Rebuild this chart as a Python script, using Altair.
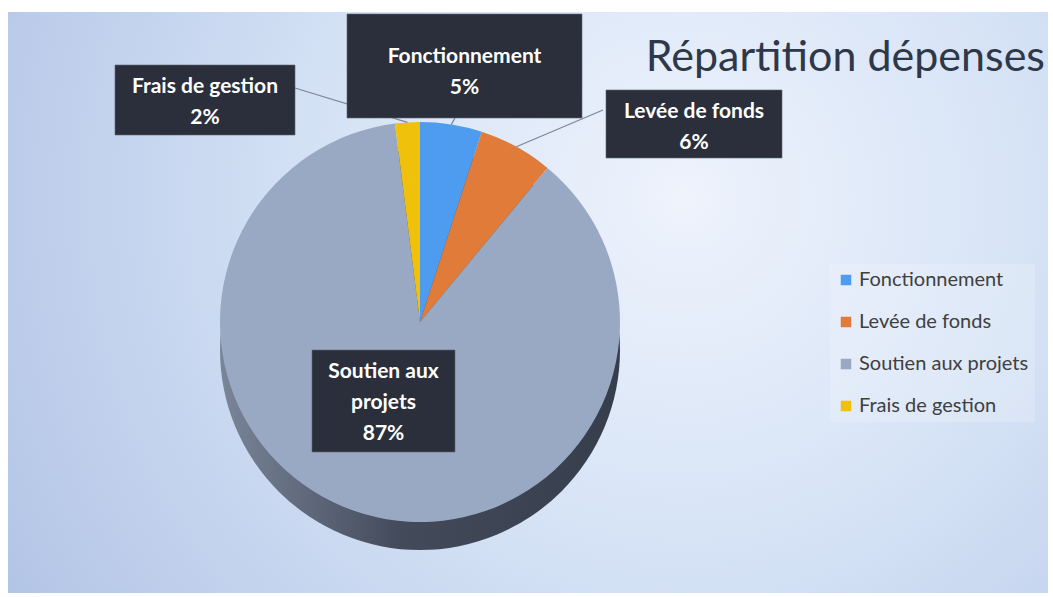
import math
import altair as alt
import pandas as pd

# ---- data ----
categories = ["Fonctionnement", "Levée de fonds", "Soutien aux projets", "Frais de gestion"]
values = [5, 6, 87, 2]
label_texts = ["Fonctionnement\n5%", "Levée de fonds\n6%", "Soutien aux\nprojets\n87%", "Frais de gestion\n2%"]
colors = ["#4d9cf0", "#e07b39", "#9aa9c3", "#f0c10a"]

# ---- layout ----
W, H = 1053, 597
CX, CY, R = 420, 322, 200
DEPTH = 28
LINE_H = 31
box_x1 = [347, 606, 312, 115]
box_x2 = [582, 782, 455, 295]
box_y1 = [14, 90, 350, 65]
box_y2 = [118, 158, 452, 135]
text_shift = [6, 3, 2, 2]
leader_start = [(455, 118), (603, 110), None, (295, 88)]

df = pd.DataFrame({"cat": categories, "value": values, "idx": list(range(len(values)))})

# leader end points derived from the slice mid angles
total = sum(values)
cum = 0
ends = []
for v in values:
    mid = (cum + v / 2) / total * 2 * math.pi
    ends.append((CX + R * math.sin(mid), CY - R * math.cos(mid)))
    cum += v
leaders = pd.DataFrame([
    {"x": s[0], "y": s[1], "x2": e[0], "y2": e[1]}
    for s, e in zip(leader_start, ends) if s is not None
])

nlines = [t.count("\n") + 1 for t in label_texts]
boxes = pd.DataFrame({
    "x1": box_x1, "x2": box_x2, "y1": box_y1, "y2": box_y2,
    "xc": [(a + b) / 2 for a, b in zip(box_x1, box_x2)],
    "ytop": [(a + b) / 2 - (n - 1) * LINE_H / 2 + s
             for a, b, n, s in zip(box_y1, box_y2, nlines, text_shift)],
    "label": label_texts,
})

bg = alt.Chart(pd.DataFrame({"a": [0]})).mark_rect(
    fill=alt.RadialGradient(
        gradient="radial",
        stops=[alt.GradientStop(color="#eef3fc", offset=0),
               alt.GradientStop(color="#d6e3f6", offset=0.45),
               alt.GradientStop(color="#b3c5e6", offset=1)],
        x1=0.65, y1=0.4, r1=0, x2=0.65, y2=0.4, r2=0.75,
    )
).encode(x=alt.value(8), x2=alt.value(1048), y=alt.value(12), y2=alt.value(593))

side = alt.Chart(pd.DataFrame({"a": [0]})).mark_arc(
    theta=0, theta2=2 * math.pi, radius=R,
    fill=alt.LinearGradient(
        gradient="linear",
        stops=[alt.GradientStop(color="#7a8599", offset=0),
               alt.GradientStop(color="#434b5b", offset=0.45),
               alt.GradientStop(color="#363e4c", offset=1)],
        x1=0, x2=1, y1=0, y2=0,
    ),
    strokeWidth=0,
).encode(x=alt.value(CX), y=alt.value(CY + DEPTH))

pie = alt.Chart(df).mark_arc(radius=R, strokeWidth=0).encode(
    theta=alt.Theta("value:Q", stack=True),
    order=alt.Order("idx:Q"),
    color=alt.Color(
        "cat:N",
        scale=alt.Scale(domain=categories, range=colors),
        sort=categories,
        legend=alt.Legend(
            title=None, orient="none", legendX=830, legendY=264,
            symbolType="square", symbolSize=110, symbolStrokeWidth=0,
            labelFont="Lato", labelFontSize=20, labelColor="#404040",
            labelLimit=300,
            rowPadding=22, fillColor="rgba(255,255,255,0.18)", padding=6,
            labelOffset=3,
        ),
    ),
    x=alt.value(CX), y=alt.value(CY),
)

lines = alt.Chart(leaders).mark_rule(color="#7b8799", strokeWidth=1.3).encode(
    x=alt.X("x:Q", scale=None), y=alt.Y("y:Q", scale=None),
    x2="x2:Q", y2="y2:Q",
)

rects = alt.Chart(boxes).mark_rect(fill="#2a2f3b", stroke="#5d6573", strokeWidth=0.6).encode(
    x=alt.X("x1:Q", scale=None), x2="x2:Q",
    y=alt.Y("y1:Q", scale=None), y2="y2:Q",
)

texts = alt.Chart(boxes).mark_text(
    font="Lato", fontSize=21, fontWeight="bold", color="white",
    lineBreak="\n", lineHeight=LINE_H, align="center", baseline="middle",
).encode(
    x=alt.X("xc:Q", scale=None), y=alt.Y("ytop:Q", scale=None), text="label:N",
)

title = alt.Chart(pd.DataFrame({"t": ["Répartition dépenses"]})).mark_text(
    font="Lato", fontSize=43, color="#2f3848", align="right", baseline="middle",
).encode(x=alt.value(1045), y=alt.value(58), text="t:N")

chart = alt.layer(bg, side, pie, lines, rects, texts, title).properties(
    width=W, height=H, autosize=alt.AutoSizeParams(type="none"), padding=0,
    background="white",
).configure_view(stroke=None)

chart.save("out.html", embed_options={"renderer": "svg", "actions": False})
